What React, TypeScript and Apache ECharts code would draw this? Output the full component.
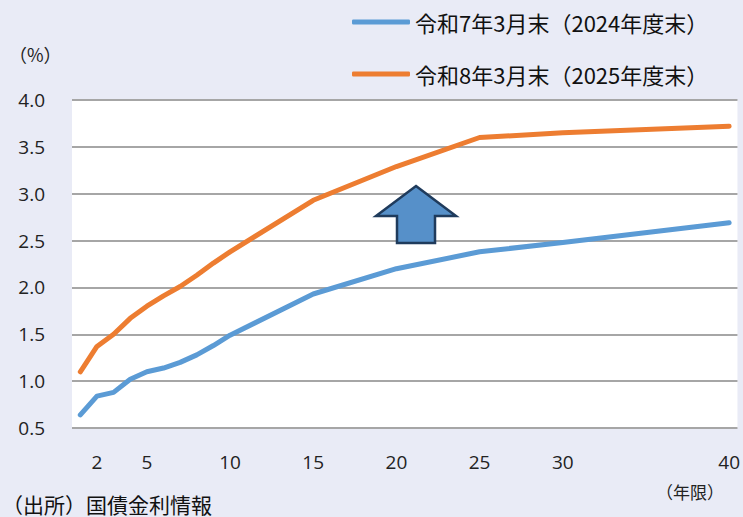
import React, { useEffect, useRef } from "react";
import * as echarts from "echarts";

// Maturities (years) and yields (%)
const maturities = [1, 2, 3, 4, 5, 6, 7, 8, 9, 10, 15, 20, 25, 30, 40];
const yieldsR7 = [0.64, 0.84, 0.88, 1.02, 1.1, 1.14, 1.2, 1.28, 1.38, 1.49, 1.93, 2.2, 2.38, 2.48, 2.69];
const yieldsR8 = [1.1, 1.37, 1.5, 1.67, 1.8, 1.91, 2.01, 2.13, 2.26, 2.38, 2.93, 3.29, 3.6, 3.65, 3.72];

const seriesNames = ["令和7年3月末（2024年度末）", "令和8年3月末（2025年度末）"];
const seriesColors = ["#5b9bd5", "#ed7d31"];

// Category axis covers years 1..40; only these are labelled
const yearCategories = Array.from({ length: 40 }, (_, i) => String(i + 1));
const labelledYears = ["2", "5", "10", "15", "20", "25", "30", "40"];

const BG = "#e9ebf6";
const JP_FONT = '"Noto Sans CJK JP", "Noto Sans", sans-serif';
const NUM_FONT = '"Open Sans", "Noto Sans", sans-serif';

const toPoints = (vals: number[]) => maturities.map((m, i) => [m - 1, vals[i]]);

export default function App() {
  const ref = useRef<HTMLDivElement>(null);

  useEffect(() => {
    document.body.style.margin = "0";
    const chart = echarts.init(ref.current!, undefined, { renderer: "svg" });
    chart.setOption({
      animation: false,
      backgroundColor: BG,
      grid: {
        left: 72,
        right: 4,
        top: 100,
        bottom: 89,
        show: true,
        backgroundColor: "#ffffff",
        borderWidth: 0,
      },
      legend: {
        orient: "vertical",
        left: 352,
        top: 10,
        padding: 0,
        itemWidth: 58,
        itemHeight: 5,
        itemGap: 28,
        icon: "roundRect",
        data: seriesNames,
        textStyle: { fontFamily: JP_FONT, fontSize: 22, color: "#111", lineHeight: 24 },
      },
      xAxis: {
        type: "category",
        data: yearCategories,
        boundaryGap: true,
        axisLine: { show: false },
        axisTick: { show: false },
        splitLine: { show: false },
        axisLabel: {
          interval: (_: number, v: string) => labelledYears.includes(v),
          margin: 24,
          fontFamily: NUM_FONT,
          fontSize: 19,
          color: "#222",
        },
      },
      yAxis: {
        type: "value",
        min: 0.5,
        max: 4.0,
        interval: 0.5,
        axisLine: { show: false },
        axisTick: { show: false },
        splitLine: { show: true, lineStyle: { color: "#a6a6a6", width: 2 } },
        axisLabel: {
          formatter: (v: number) => v.toFixed(1),
          margin: 27,
          fontFamily: NUM_FONT,
          fontSize: 19,
          color: "#222",
        },
      },
      series: [yieldsR7, yieldsR8].map((vals, i) => ({
        name: seriesNames[i],
        type: "line",
        data: toPoints(vals),
        showSymbol: false,
        symbol: "none",
        color: seriesColors[i],
        lineStyle: { width: 5, color: seriesColors[i], cap: "round", join: "round" },
      })),
      graphic: [
        {
          type: "text",
          left: 9,
          top: 45,
          style: { text: "（%）", fontFamily: JP_FONT, fontSize: 18, fill: "#222" },
        },
        {
          type: "text",
          left: 656,
          top: 483,
          style: { text: "（年限）", fontFamily: JP_FONT, fontSize: 17, fill: "#222" },
        },
        {
          type: "text",
          left: 2,
          top: 493,
          style: { text: "（出所）国債金利情報", fontFamily: JP_FONT, fontSize: 21, fill: "#111" },
        },
        {
          type: "polygon",
          shape: {
            points: [
              [416, 186],
              [456, 216],
              [435, 216],
              [435, 243],
              [397, 243],
              [397, 216],
              [376, 216],
            ],
          },
          style: { fill: "#5690c9", stroke: "#1f3b5c", lineWidth: 2.5 },
          z: 10,
        },
      ],
    });
    return () => chart.dispose();
  }, []);

  return <div ref={ref} style={{ width: 743, height: 517, position: "absolute", left: 0, top: 0 }} />;
}
